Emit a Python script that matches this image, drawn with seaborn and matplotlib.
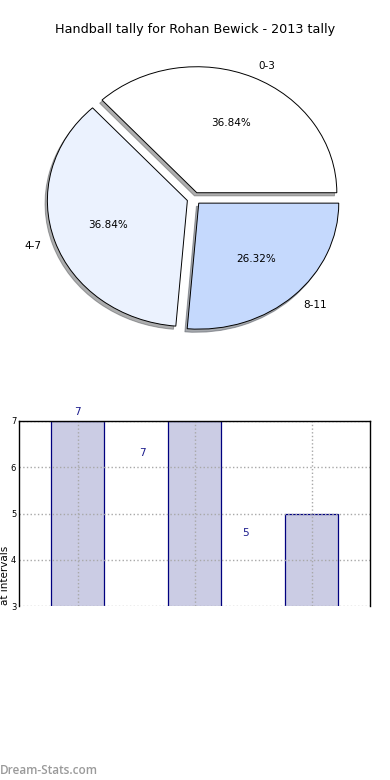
import matplotlib
matplotlib.use("Agg")
import matplotlib.pyplot as plt
import seaborn as sns
import pandas as pd

# ---- data ----
categories = ["0-3", "4-7", "8-11"]
tally = [7, 7, 5]
pie_colors = ["#ffffff", "#ebf2fe", "#c5d9fd"]
title = "Handball tally for Rohan Bewick - 2013 tally"
bar_ylabel = "at intervals"
watermark = "Dream-Stats.com"

sns.set_theme(style="white")
plt.rcParams["font.family"] = ["DejaVu Sans"]
plt.rcParams["text.color"] = "black"

fig = plt.figure(figsize=(3.9, 7.8), dpi=100)
fig.patch.set_facecolor("white")

# ---- pie ----
axp = fig.add_axes([5 / 390, 1 - 362.3 / 780, 378 / 390, 327.6 / 780])
wedges, texts, autotexts = axp.pie(
    tally, labels=categories, colors=pie_colors, explode=[0.05] * len(tally),
    startangle=0, autopct="%1.2f%%", pctdistance=0.6, labeldistance=1.1,
    shadow=dict(ox=-0.012, oy=-0.018, alpha=0.45),
    wedgeprops=dict(edgecolor="black", linewidth=0.7),
    textprops=dict(fontsize=7.5, color="black"))
axp.set_aspect("auto")
axp.set_xlim(-1.35, 1.35)
axp.set_ylim(-1.3, 1.3)
axp.axis("off")

fig.text(195 / 390, 1 - 30 / 780, title, ha="center", va="center", fontsize=9.2,
         color="black")

# ---- bars ----
axb = fig.add_axes([19 / 390, 1 - 606 / 780, 351 / 390, 185 / 780])
df = pd.DataFrame({"cat": categories, "val": tally})
sns.barplot(data=df, x="cat", y="val", ax=axb, color="#cbcce4", saturation=1,
            width=0.45, edgecolor="#00007f", linewidth=0.9)
for p in axb.patches:
    p.set_zorder(1)
axb.set_xlim(-0.5, 2.5)
axb.set_ylim(3, 7)
axb.set_yticks([3, 4, 5, 6, 7])
axb.tick_params(axis="y", labelsize=6, length=0, pad=2, labelcolor="black")
axb.tick_params(axis="x", labelbottom=False, length=0)
axb.set_xlabel("")
axb.set_axisbelow(False)
axb.grid(True, linestyle=":", color="#a8a8a8", linewidth=1.0)
for s in ["left", "right", "top"]:
    axb.spines[s].set_visible(True)
    axb.spines[s].set_color("black")
    axb.spines[s].set_linewidth(1.0)
    axb.spines[s].set_zorder(5)
axb.spines["bottom"].set_visible(False)

# value labels (offset layout as in reference)
label_offsets = [(0.0, 7.2), (0.556, 6.31), (1.436, 4.58)]
for (lx, ly), v in zip(label_offsets, tally):
    axb.text(lx, ly, str(v), ha="center", va="center", fontsize=7.5,
             color="#1a1a8c", clip_on=False)

axb.set_ylabel(bar_ylabel, fontsize=7.5, color="black")
axb.yaxis.set_label_coords(-0.025, 0.165)

fig.text(0, 1 - 770 / 780, watermark, ha="left", va="center", fontsize=8.5,
         color="#9a9a9a", fontweight="semibold", family=["Open Sans", "DejaVu Sans"])

fig.savefig("out.png", dpi=100, facecolor="white")
